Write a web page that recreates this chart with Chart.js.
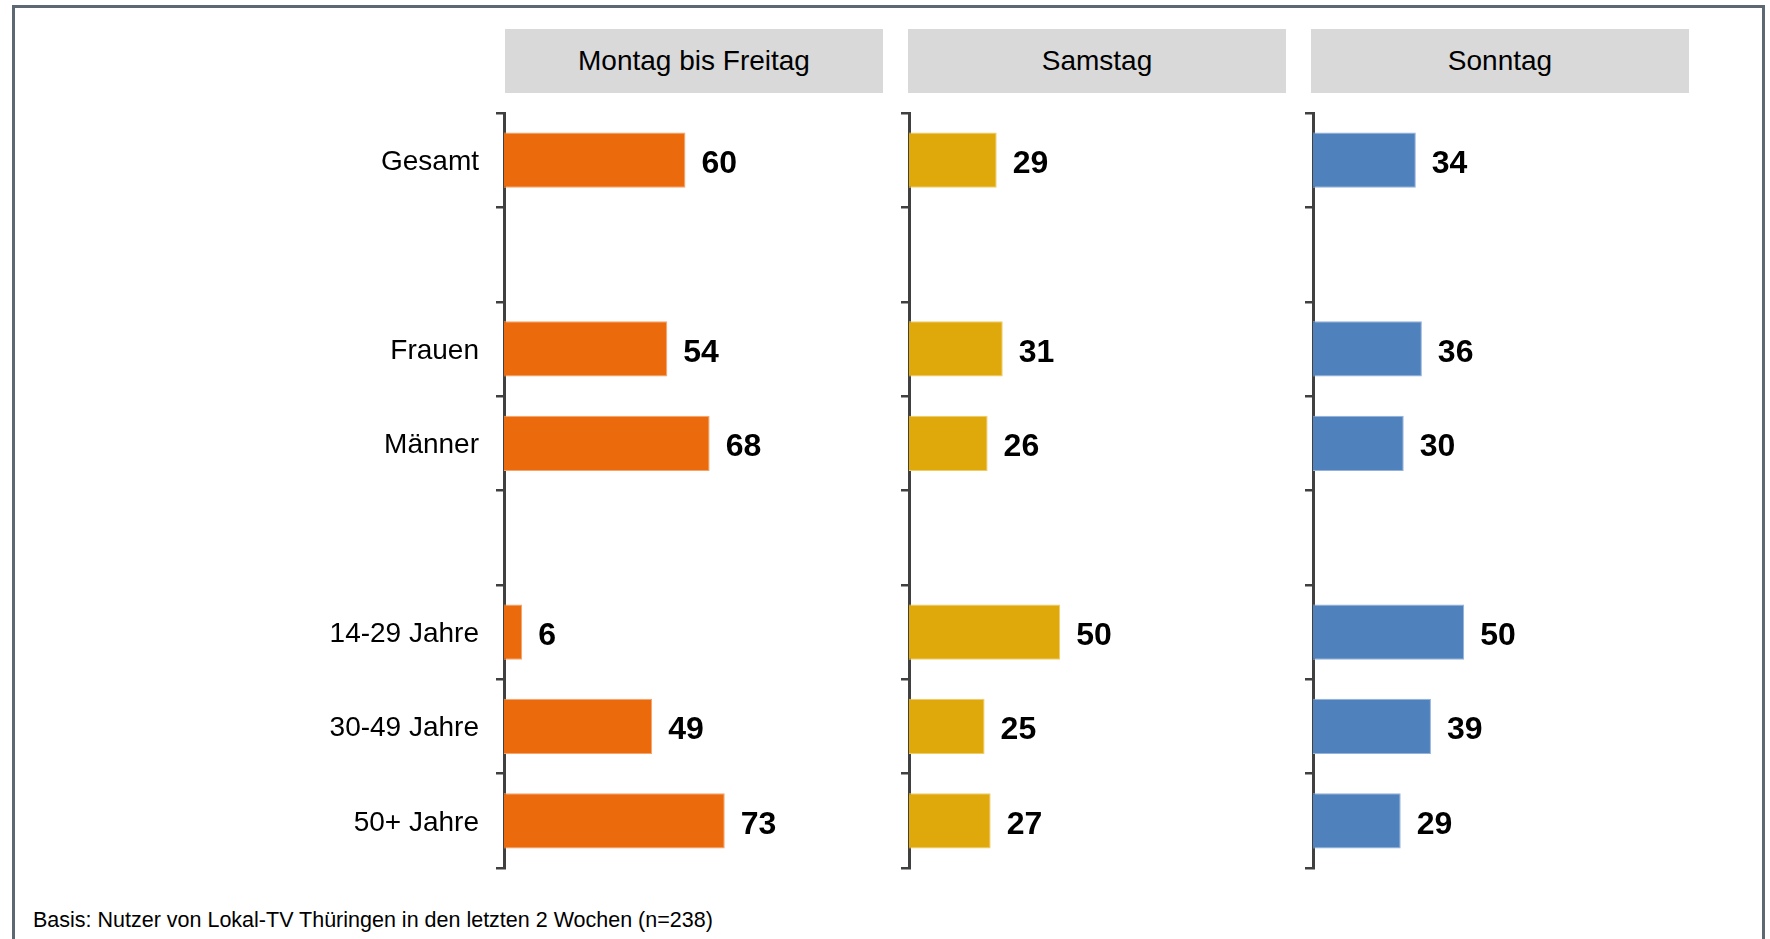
<!DOCTYPE html>
<html>
<head>
<meta charset="utf-8">
<script src="https://cdn.jsdelivr.net/npm/chart.js@4.4.1/dist/chart.umd.min.js"></script>
<style>
  html, body { margin: 0; padding: 0; background: #fff; }
  body { width: 1770px; height: 939px; position: relative; overflow: hidden; font-family: "Liberation Sans", Arial, sans-serif; }
  .frame { position: absolute; left: 12px; top: 5px; width: 1753px; height: 1000px; border: 3px solid #5d6873; box-sizing: border-box; }
  .hdr { position: absolute; top: 29px; height: 64px; width: 378px; background: #d9d9d9; color: #000; font-size: 28px; line-height: 64px; text-align: center; }
  .cv { position: absolute; top: 100px; width: 600px; height: 790px; }
  .foot { position: absolute; left: 33px; top: 908px; font-size: 21.5px; color: #000; white-space: nowrap; }
</style>
</head>
<body>
<div class="frame"></div>
<div class="hdr" id="h0" style="left:505px"></div>
<div class="hdr" id="h1" style="left:908px"></div>
<div class="hdr" id="h2" style="left:1311px"></div>
<div class="cv" style="left:300px"><canvas id="c0"></canvas></div>
<div class="cv" style="left:705px"><canvas id="c1"></canvas></div>
<div class="cv" style="left:1109px"><canvas id="c2"></canvas></div>
<div class="foot" id="foot"></div>
<script>
const categories = ['Gesamt', '', 'Frauen', 'Männer', '', '14-29 Jahre', '30-49 Jahre', '50+ Jahre'];
const panelTitles = ['Montag bis Freitag', 'Samstag', 'Sonntag'];
const valuesMoFr = [60, null, 54, 68, null, 6, 49, 73];
const valuesSa   = [29, null, 31, 26, null, 50, 25, 27];
const valuesSo   = [34, null, 36, 30, null, 50, 39, 29];
const footnote = 'Basis: Nutzer von Lokal-TV Thüringen in den letzten 2 Wochen (n=238)';
const xMax = 125;

const panelValues = [valuesMoFr, valuesSa, valuesSo];
const panelColors = ['#eb6b0c', '#e0a90b', '#4f81bd'];
const panelEdges  = ['#f4a56e', '#efcc6a', '#93b1d9'];

panelTitles.forEach((t, i) => { document.getElementById('h' + i).textContent = t; });
document.getElementById('foot').textContent = footnote;

const valueLabels = {
  id: 'valueLabels',
  afterDatasetsDraw(chart) {
    const ctx = chart.ctx;
    const meta = chart.getDatasetMeta(0);
    const data = chart.data.datasets[0].data;
    ctx.save();
    ctx.font = 'bold 32px "Liberation Sans", Arial, sans-serif';
    ctx.fillStyle = '#000';
    ctx.textAlign = 'left';
    ctx.textBaseline = 'middle';
    meta.data.forEach((bar, idx) => {
      const v = data[idx];
      if (v === null || v === undefined) return;
      ctx.fillText(String(v), bar.x + 16, bar.y + 4);
    });
    ctx.restore();
  }
};

panelValues.forEach((vals, i) => {
  new Chart(document.getElementById('c' + i), {
    type: 'bar',
    data: {
      labels: categories,
      datasets: [{
        data: vals,
        backgroundColor: panelColors[i],
        borderColor: panelEdges[i],
        borderWidth: 1,
        borderSkipped: 'left',
        categoryPercentage: 1,
        barPercentage: 0.585
      }]
    },
    options: {
      indexAxis: 'y',
      responsive: true,
      maintainAspectRatio: false,
      animation: false,
      layout: { padding: { top: 13, bottom: 22, left: 0, right: 18 } },
      plugins: { legend: { display: false }, tooltip: { enabled: false }, title: { display: false } },
      scales: {
        x: {
          display: false,
          min: 0,
          max: xMax
        },
        y: {
          z: 1,
          offset: true,
          border: { display: true, color: '#404040', width: 3 },
          grid: {
            offset: true,
            drawOnChartArea: false,
            drawTicks: true,
            tickLength: 8,
            color: '#404040',
            lineWidth: 2.5
          },
          ticks: {
            display: i === 0,
            padding: 17,
            labelOffset: 2,
            color: '#000',
            font: { family: '"Liberation Sans", Arial, sans-serif', size: 28 }
          },
          afterFit(scale) {
            scale.width = 204;
            scale.paddingTop = 0;
            scale.paddingBottom = 0;
          }
        }
      }
    },
    plugins: [valueLabels]
  });
});
</script>
</body>
</html>
